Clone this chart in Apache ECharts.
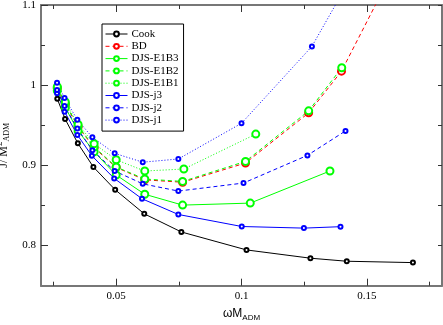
<!DOCTYPE html>
<html>
<head>
<meta charset="utf-8">
<script src="https://cdn.jsdelivr.net/npm/echarts@6/dist/echarts.min.js"></script>
<style>
  html, body { margin: 0; padding: 0; background: #fff; }
  #main { width: 443px; height: 325px; }
</style>
</head>
<body>
<div id="main"></div>
<script>
// data
var names = ['Cook', 'BD', 'DJS-E1B3', 'DJS-E1B2', 'DJS-E1B1', 'DJS-j3', 'DJS-j2', 'DJS-j1'];

var cookX = [0.0265, 0.0296, 0.0347, 0.0409, 0.0496, 0.0612, 0.076, 0.102, 0.1275, 0.142, 0.1684];
var cookY = [0.983, 0.958, 0.9275, 0.898, 0.8696, 0.8396, 0.817, 0.7946, 0.7843, 0.7805, 0.7788];

var bdX = [0.0265, 0.0297, 0.0348, 0.0412, 0.05, 0.0614, 0.0765, 0.1016, 0.1268, 0.1399, 0.16];
var bdY = [0.996, 0.976, 0.948, 0.922, 0.8975, 0.882, 0.879, 0.903, 0.9655, 1.0175, 1.14];

var e1b3X = [0.0265, 0.0297, 0.0348, 0.0412, 0.05, 0.0614, 0.0765, 0.1035, 0.1353];
var e1b3Y = [0.993, 0.972, 0.943, 0.917, 0.888, 0.864, 0.8505, 0.853, 0.893];

var e1b2X = [0.0265, 0.0297, 0.0348, 0.0412, 0.05, 0.0614, 0.0765, 0.1016, 0.1268, 0.14];
var e1b2Y = [0.997, 0.977, 0.949, 0.923, 0.898, 0.883, 0.88, 0.905, 0.968, 1.0218];

var e1b1X = [0.0265, 0.0297, 0.0348, 0.0412, 0.05, 0.0614, 0.077, 0.1057];
var e1b1Y = [0.998, 0.979, 0.951, 0.927, 0.907, 0.893, 0.8955, 0.939];

var j3X = [0.0264, 0.0294, 0.0345, 0.0403, 0.0492, 0.0603, 0.0748, 0.1001, 0.1249, 0.1395];
var j3Y = [0.990, 0.967, 0.938, 0.912, 0.8838, 0.8584, 0.8388, 0.8238, 0.8218, 0.8236];

var j2X = [0.0264, 0.0294, 0.0345, 0.0405, 0.0494, 0.0606, 0.0748, 0.1008, 0.1263, 0.1415];
var j2Y = [0.994, 0.974, 0.946, 0.919, 0.893, 0.877, 0.868, 0.878, 0.9125, 0.943];

var j1X = [0.0264, 0.0294, 0.0345, 0.0405, 0.0494, 0.0606, 0.0748, 0.1, 0.1281, 0.142];
var j1Y = [1.003, 0.984, 0.957, 0.935, 0.915, 0.904, 0.908, 0.9525, 1.0484, 1.125];

var xMajor = [0.05, 0.1, 0.15];
var xMinor = [0.025, 0.075, 0.125, 0.175];
var yMajor = [0.8, 0.9, 1, 1.1];
var yMinor = [0.85, 0.95, 1.05];

function zip(xs, ys) {
    return xs.map(function (x, i) { return [x, ys[i]]; });
}

var myChart = echarts.init(document.getElementById('main'));

var serif = 'Liberation Serif';
var frame = { show: true, lineStyle: { color: '#777', width: 2 } };

function xAx(pos, ticks, len, labels) {
    return {
        type: 'value', position: pos, min: 0.02, max: 0.18,
        axisLine: labels ? frame : { show: false },
        axisTick: { show: true, inside: true, length: len, customValues: ticks,
                    lineStyle: { color: '#333', width: 1 } },
        axisLabel: labels ? { show: true, customValues: xMajor, color: '#000',
                              fontFamily: serif, fontSize: 11, margin: 5,
                              formatter: function (v) { return String(+v.toFixed(3)); } }
                          : { show: false },
        splitLine: { show: false }
    };
}
function yAx(pos, ticks, len, labels) {
    return {
        type: 'value', position: pos, min: 0.75, max: 1.1,
        axisLine: labels ? frame : { show: false },
        axisTick: { show: true, inside: true, length: len, customValues: ticks,
                    lineStyle: { color: '#333', width: 1 } },
        axisLabel: labels ? { show: true, customValues: yMajor, color: '#000',
                              fontFamily: serif, fontSize: 11, margin: 5,
                              formatter: function (v) { return String(+v.toFixed(2)); } }
                          : { show: false },
        splitLine: { show: false }
    };
}

var xBottom = xAx('bottom', xMajor, 7, true);
xBottom.name = '{a|ωM}{s|ADM}';
xBottom.nameLocation = 'middle';
xBottom.nameGap = 20;
xBottom.nameTextStyle = {
    rich: {
        a: { fontFamily: 'Liberation Sans', fontSize: 12, color: '#000', lineHeight: 16 },
        s: { fontFamily: 'Liberation Sans', fontSize: 8, color: '#000', lineHeight: 8, verticalAlign: 'bottom' }
    }
};

var yLeft = yAx('left', yMajor, 7, true);
yLeft.name = '{a|J/ M}{p|2}{s|ADM}';
yLeft.nameLocation = 'middle';
yLeft.nameRotate = 90;
yLeft.nameGap = 24;
yLeft.nameTextStyle = {
    rich: {
        a: { fontFamily: serif, fontSize: 12, color: '#000', lineHeight: 16 },
        p: { fontFamily: serif, fontSize: 9, color: '#000', lineHeight: 9, verticalAlign: 'top' },
        s: { fontFamily: serif, fontSize: 8, color: '#000', lineHeight: 8, verticalAlign: 'bottom' }
    }
};

var xTop = xAx('top', xMajor, 7, false);
xTop.axisLine = frame;
var yRight = yAx('right', yMajor.concat(yMinor), 4, false);
yRight.axisLine = frame;

function mk(name, data, color, dash, size) {
    return {
        name: name, type: 'line', data: data,
        xAxisIndex: 0, yAxisIndex: 0,
        symbol: 'emptyCircle', symbolSize: size,
        lineStyle: { color: color, width: 1, type: dash },
        itemStyle: { color: color, borderColor: color, borderWidth: 1 },
        emphasis: { disabled: true },
        clip: true
    };
}

var dashed = [4, 3];
var dotted = [1, 2];

option = {
    animation: false,
    backgroundColor: '#fff',
    grid: { left: 41, right: 1, top: 5, bottom: 39.3, outerBoundsMode: 'none', containLabel: false },
    legend: {
        orient: 'vertical', left: 102, top: 24,
        padding: [4, 5, 5, 3], itemGap: 0.3,
        itemWidth: 22, itemHeight: 6,
        backgroundColor: '#fff', borderColor: '#000', borderWidth: 1, borderRadius: 0,
        lineStyle: { width: 1 },
        itemStyle: { borderWidth: 1 },
        textStyle: { fontFamily: serif, fontSize: 11, color: '#000', lineHeight: 12, padding: [0, 0, 0, -1] },
        data: names
    },
    xAxis: [xBottom, xAx('bottom', xMinor, 4, false), xTop, xAx('top', xMinor, 4, false)],
    yAxis: [yLeft, yAx('left', yMinor, 4, false), yRight],
    series: [
        mk('Cook', zip(cookX, cookY), '#000', 'solid', 4),
        mk('BD', zip(bdX, bdY), '#ff0000', dashed, 7),
        mk('DJS-E1B3', zip(e1b3X, e1b3Y), '#00ff00', 'solid', 7),
        mk('DJS-E1B2', zip(e1b2X, e1b2Y), '#00ff00', dashed, 7),
        mk('DJS-E1B1', zip(e1b1X, e1b1Y), '#00ff00', dotted, 7),
        mk('DJS-j3', zip(j3X, j3Y), '#0000ff', 'solid', 4),
        mk('DJS-j2', zip(j2X, j2Y), '#0000ff', dashed, 4),
        mk('DJS-j1', zip(j1X, j1Y), '#0000ff', dotted, 4)
    ]
};

myChart.setOption(option);
</script>
</body>
</html>
